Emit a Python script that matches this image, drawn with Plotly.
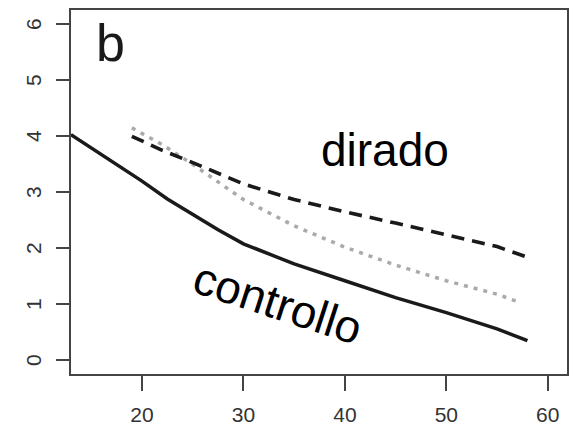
import plotly.graph_objects as go

# Data
age_controllo = [13, 16, 20, 22.5, 25, 27.5, 30, 35, 40, 45, 50, 55, 58]
val_controllo = [4.03, 3.68, 3.2, 2.88, 2.6, 2.33, 2.08, 1.72, 1.42, 1.12, 0.85, 0.56, 0.35]

age_dirado = [19, 22, 25, 30, 35, 40, 45, 50, 55, 58]
val_dirado = [4.0, 3.75, 3.53, 3.15, 2.87, 2.65, 2.45, 2.24, 2.03, 1.84]

age_grey = [19, 22, 25, 30, 35, 40, 45, 50, 55, 57]
val_grey = [4.15, 3.85, 3.5, 2.87, 2.4, 2.02, 1.7, 1.42, 1.18, 1.05]

x_ticks = [20, 30, 40, 50, 60]
y_ticks = [0, 1, 2, 3, 4, 5, 6]

fig = go.Figure()
fig.add_trace(go.Scatter(x=age_grey, y=val_grey, mode="lines",
                         line=dict(color="#aaaaaa", width=3.5, dash="4px,6px"),
                         showlegend=False))
fig.add_trace(go.Scatter(x=age_dirado, y=val_dirado, mode="lines",
                         line=dict(color="#1a1a1a", width=3.6, dash="13px,8px"),
                         showlegend=False))
fig.add_trace(go.Scatter(x=age_controllo, y=val_controllo, mode="lines",
                         line=dict(color="#1a1a1a", width=3.5),
                         showlegend=False))

fig.add_annotation(x=16.9, y=5.67, text="b", showarrow=False,
                   font=dict(family="Liberation Sans", size=52, color="#1a1a1a"))
fig.add_annotation(x=43.97, y=3.76, text="dirado", showarrow=False,
                   font=dict(family="Liberation Sans", size=46, color="#000000"))
fig.add_annotation(x=33.4, y=1.03, text="controllo", showarrow=False, textangle=18,
                   font=dict(family="Liberation Sans", size=46, color="#000000"))

# rotated y tick labels (R style, las=0)
for v in y_ticks:
    fig.add_annotation(xref="paper", yref="y", x=-0.077, y=v, text=str(v),
                       showarrow=False, textangle=-90, xanchor="center", yanchor="middle",
                       font=dict(family="Liberation Sans", size=21, color="#333333"))

axis_common = dict(showline=True, linecolor="#444444", linewidth=1.5, mirror=True,
                   showgrid=False, zeroline=False, ticks="outside", tickcolor="#444444",
                   tickwidth=1.5, automargin=False)

fig.update_xaxes(range=[13.0, 61.9], tickvals=x_ticks, ticklen=15,
                 ticklabelstandoff=6,
                 tickfont=dict(family="Liberation Sans", size=21, color="#333333"),
                 **axis_common)
fig.update_yaxes(range=[-0.245, 6.255], tickvals=y_ticks, ticklen=13,
                 showticklabels=False, **axis_common)

fig.update_layout(template="none", width=574, height=428,
                  margin=dict(l=71, r=7, t=10, b=54),
                  paper_bgcolor="white", plot_bgcolor="white")

fig.write_html("out.html")
